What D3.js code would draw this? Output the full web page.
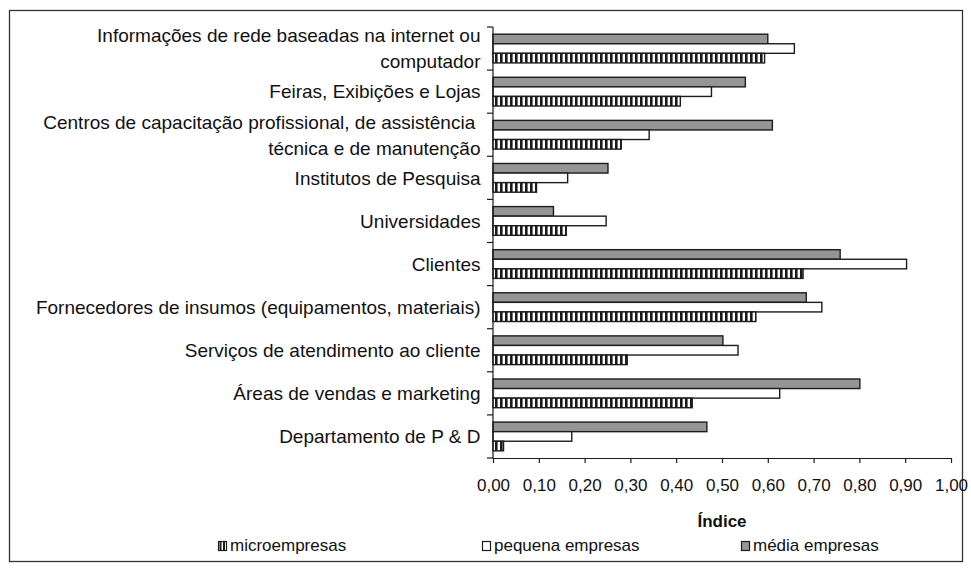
<!DOCTYPE html>
<html>
<head>
<meta charset="utf-8">
<script src="https://cdn.jsdelivr.net/npm/d3@7"></script>
<style>
  html, body { margin: 0; padding: 0; background: #fff; }
  svg { display: block; font-family: "Liberation Sans", Arial, sans-serif; }
</style>
</head>
<body>
<svg id="chart" width="971" height="570"></svg>
<script>
// Categories, top to bottom; "\n" marks a wrapped label line
const categories = [
  "Informações de rede baseadas na internet ou\ncomputador",
  "Feiras, Exibições e Lojas ",
  "Centros de capacitação profissional, de assistência \ntécnica e de manutenção",
  "Institutos de Pesquisa ",
  "Universidades",
  "Clientes ",
  "Fornecedores de insumos (equipamentos, materiais)",
  "Serviços de atendimento ao cliente",
  "Áreas de vendas e marketing",
  "Departamento de P & D"
];

// Índice per company size
const microempresas = [0.593, 0.409, 0.280, 0.095, 0.160, 0.677, 0.574, 0.293, 0.435, 0.023];
const pequenaEmpresas = [0.658, 0.477, 0.341, 0.163, 0.247, 0.903, 0.718, 0.535, 0.626, 0.172];
const mediaEmpresas = [0.600, 0.551, 0.610, 0.251, 0.132, 0.758, 0.684, 0.502, 0.801, 0.467];

const seriesKeys = ["media", "pequena", "micro"];
const seriesNames = { micro: "microempresas", pequena: "pequena empresas", media: "média empresas" };
const seriesValues = { micro: microempresas, pequena: pequenaEmpresas, media: mediaEmpresas };
const legendOrder = ["micro", "pequena", "media"];

const xTicks = [0, 0.1, 0.2, 0.3, 0.4, 0.5, 0.6, 0.7, 0.8, 0.9, 1.0];
const xTitle = "Índice";

const svg = d3.select("#chart");
const ink = "#1c1c1c";

// hatch for the micro series: vertical dark stripes
const defs = svg.append("defs");
const pat = defs.append("pattern")
  .attr("id", "vstripes")
  .attr("patternUnits", "userSpaceOnUse")
  .attr("width", 5).attr("height", 10);
pat.append("rect").attr("width", 5).attr("height", 10).attr("fill", "#fff");
pat.append("rect").attr("x", 0).attr("width", 2.6).attr("height", 10).attr("fill", "#1a1a1a");

const fills = { media: "#959595", pequena: "#ffffff", micro: "url(#vstripes)" };

// outer frame
svg.append("rect")
  .attr("x", 9.5).attr("y", 10.5)
  .attr("width", 953).attr("height", 551)
  .attr("fill", "none").attr("stroke", "#333").attr("stroke-width", 1.3);

const plot = { left: 493, right: 951, top: 27, bottom: 458 };

const x = d3.scaleLinear().domain([0, 1]).range([plot.left, plot.right]);
const y = d3.scaleBand().domain(categories).range([plot.top, plot.bottom]).paddingInner(0).paddingOuter(0);
const ySub = d3.scaleBand().domain(seriesKeys).range([0, y.bandwidth()]).paddingInner(0).paddingOuter(0.75);

// bars
const rows = categories.map((c, i) => ({ cat: c, i }));
const groups = svg.append("g").selectAll("g")
  .data(rows).join("g")
  .attr("transform", d => `translate(0,${y(d.cat)})`);

groups.selectAll("rect")
  .data(d => seriesKeys.map(k => ({ key: k, value: seriesValues[k][d.i] })))
  .join("rect")
  .attr("x", x(0))
  .attr("y", d => ySub(d.key))
  .attr("width", d => x(d.value) - x(0))
  .attr("height", ySub.bandwidth())
  .attr("fill", d => fills[d.key])
  .attr("stroke", ink)
  .attr("stroke-width", 1.4);

// x axis
const fmt = v => d3.format(".2f")(v).replace(".", ",");
const xAxis = svg.append("g")
  .attr("transform", `translate(0,${plot.bottom})`)
  .call(d3.axisBottom(x).tickValues(xTicks).tickFormat(fmt).tickSize(5).tickSizeOuter(0));
xAxis.select(".domain").attr("stroke", ink).attr("stroke-width", 1.2);
xAxis.selectAll(".tick line").attr("stroke", ink).attr("stroke-width", 1.2);
xAxis.selectAll(".tick text")
  .attr("fill", "#111")
  .attr("font-size", 17)
  .attr("font-family", "Liberation Sans, Arial, sans-serif")
  .attr("y", 21)
  .attr("dy", "0.71em");

// y axis line with ticks on category boundaries
const yAxis = svg.append("g");
yAxis.append("line")
  .attr("x1", x(0)).attr("x2", x(0))
  .attr("y1", plot.top).attr("y2", plot.bottom)
  .attr("stroke", ink).attr("stroke-width", 1.2);
const bounds = categories.map(c => y(c)).concat([plot.bottom]);
yAxis.selectAll("line.tick")
  .data(bounds).join("line")
  .attr("class", "tick")
  .attr("x1", x(0) - 6).attr("x2", x(0))
  .attr("y1", d => d).attr("y2", d => d)
  .attr("stroke", ink).attr("stroke-width", 1.2);

// category labels
const lineGap = 26;
const labels = svg.append("g")
  .attr("font-size", 19)
  .attr("fill", "#111")
  .attr("text-anchor", "end")
  .style("white-space", "pre");
labels.selectAll("text")
  .data(categories).join("text")
  .attr("transform", d => `translate(480.5,${y(d) + y.bandwidth() / 2 + 6.8})`)
  .each(function (d) {
    const parts = d.split("\n");
    const t = d3.select(this);
    const offset = -(parts.length - 1) * lineGap / 2;
    parts.forEach((p, j) => {
      t.append("tspan").attr("x", 0).attr("y", offset + j * lineGap).text(p);
    });
  });

// axis title
svg.append("text")
  .attr("x", (plot.left + plot.right) / 2)
  .attr("y", 527)
  .attr("text-anchor", "middle")
  .attr("font-size", 17)
  .attr("font-weight", "bold")
  .attr("fill", "#111")
  .text(xTitle);

// legend
const legendX = { micro: 218, pequena: 482, media: 741 };
const legend = svg.append("g").selectAll("g")
  .data(legendOrder).join("g")
  .attr("transform", k => `translate(${legendX[k]},541)`);
legend.append("rect")
  .attr("x", 0.5).attr("y", 0.5)
  .attr("width", 8).attr("height", 9)
  .attr("fill", k => k === "micro" ? "#fff" : fills[k])
  .attr("stroke", ink).attr("stroke-width", 1.2);
legend.filter(k => k === "micro").append("g")
  .selectAll("rect").data([1.5, 5]).join("rect")
  .attr("x", d => d).attr("y", 0.5).attr("width", 2).attr("height", 9).attr("fill", "#1a1a1a");
legend.append("text")
  .attr("x", 12).attr("y", 10)
  .attr("font-size", 17)
  .attr("fill", "#111")
  .text(k => seriesNames[k]);
</script>
</body>
</html>
